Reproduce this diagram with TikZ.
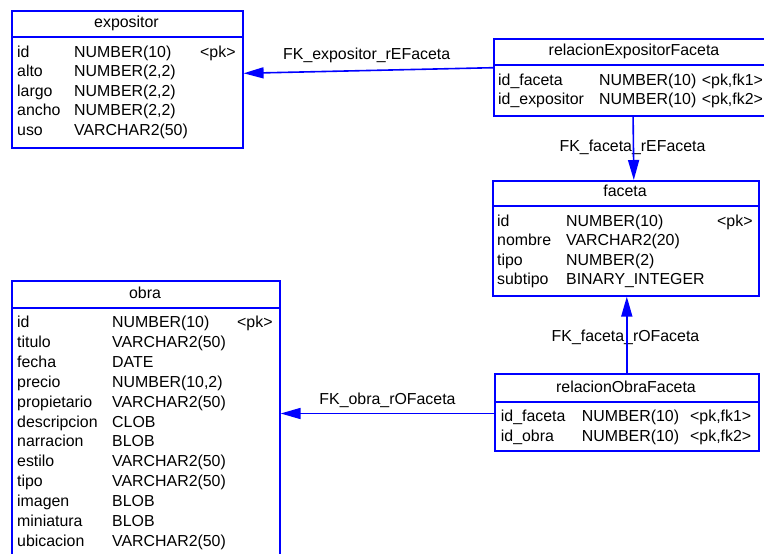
\documentclass[tikz,border=0pt]{standalone}
\usepackage{fontspec}
\setmainfont{Liberation Sans}
\usetikzlibrary{arrows.meta}
\definecolor{pdblue}{RGB}{0,0,255}
\begin{document}
\begin{tikzpicture}[x=1pt,y=-1pt,
  tbl/.style={draw=pdblue, line width=1.6pt, rectangle, inner sep=0pt, anchor=north west},
  sepline/.style={draw=pdblue, line width=1.6pt},
  txt/.style={inner sep=0pt, anchor=base west, font=\fontsize{15.9}{18}\selectfont},
  hdr/.style={inner sep=0pt, anchor=base, font=\fontsize{15.9}{18}\selectfont},
  fk/.style={draw=pdblue, line width=1.6pt, -{Triangle[length=20pt,width=11pt]}}]
\useasboundingbox (0,0) rectangle (764,554);

% ---------- tables ----------
\node[tbl, minimum width=231pt, minimum height=137pt] (expositor) at (11,10) {};
\draw[sepline] ([yshift=-27pt]expositor.north west) -- ([yshift=-27pt]expositor.north east);
\node[hdr] (expositor-h) at (126.5,27.7) {expositor};
\foreach \a/\b [count=\i from 0] in {id/NUMBER(10), alto/{NUMBER(2,2)}, largo/{NUMBER(2,2)}, ancho/{NUMBER(2,2)}, uso/VARCHAR2(50)} {
  \node[txt] (exp-a\i) at (17,57+19.6*\i) {\a};
  \node[txt] (exp-b\i) at (74,57+19.6*\i) {\b};
}
\node[txt] (exp-pk) at (200,57) {<pk>};

\node[tbl, minimum width=282pt, minimum height=77pt] (rEF) at (493,38) {};
\draw[sepline] ([yshift=-27pt]rEF.north west) -- ([yshift=-27pt]rEF.north east);
\node[hdr] (rEF-h) at (634,55.7) {relacionExpositorFaceta};
\node[txt] (ref-a0) at (498,85.5) {id\_faceta};
\node[txt] (ref-b0) at (599,85.5) {NUMBER(10)};
\node[txt] (ref-c0) at (701.7,85.5) {<pk,fk1>};
\node[txt] (ref-a1) at (498,104.5) {id\_expositor};
\node[txt] (ref-b1) at (599,104.5) {NUMBER(10)};
\node[txt] (ref-c1) at (701.7,104.5) {<pk,fk2>};

\node[tbl, minimum width=266pt, minimum height=115pt] (faceta) at (492,180) {};
\draw[sepline] ([yshift=-26pt]faceta.north west) -- ([yshift=-26pt]faceta.north east);
\node[hdr] (faceta-h) at (625,196.7) {faceta};
\foreach \a/\b [count=\i from 0] in {id/NUMBER(10), nombre/VARCHAR2(20), tipo/NUMBER(2), subtipo/BINARY\_INTEGER} {
  \node[txt] (fac-a\i) at (497,226+19.6*\i) {\a};
  \node[txt] (fac-b\i) at (566,226+19.6*\i) {\b};
}
\node[txt] (fac-pk) at (717,226) {<pk>};

\node[tbl, minimum width=268pt, minimum height=285pt] (obra) at (11,280) {};
\draw[sepline] ([yshift=-28pt]obra.north west) -- ([yshift=-28pt]obra.north east);
\node[hdr] (obra-h) at (145,298.7) {obra};
\foreach \a/\b [count=\i from 0] in {id/NUMBER(10), titulo/VARCHAR2(50), fecha/DATE, precio/{NUMBER(10,2)}, propietario/VARCHAR2(50), descripcion/CLOB, narracion/BLOB, estilo/VARCHAR2(50), tipo/VARCHAR2(50), imagen/BLOB, miniatura/BLOB, ubicacion/VARCHAR2(50)} {
  \node[txt] (obr-a\i) at (17,327.5+19.9*\i) {\a};
  \node[txt] (obr-b\i) at (112,327.5+19.9*\i) {\b};
}
\node[txt] (obr-pk) at (237,327.5) {<pk>};

\node[tbl, minimum width=264pt, minimum height=77pt] (rOF) at (494,373) {};
\draw[sepline] ([yshift=-29pt]rOF.north west) -- ([yshift=-29pt]rOF.north east);
\node[hdr] (rOF-h) at (626,392.7) {relacionObraFaceta};
\node[txt] (rof-a0) at (500.7,421) {id\_faceta};
\node[txt] (rof-b0) at (581.7,421) {NUMBER(10)};
\node[txt] (rof-c0) at (690,421) {<pk,fk1>};
\node[txt] (rof-a1) at (500.7,441) {id\_obra};
\node[txt] (rof-b1) at (581.7,441) {NUMBER(10)};
\node[txt] (rof-c1) at (690,441) {<pk,fk2>};

% ---------- connector labels ----------
\node[hdr] (l1) at (366.7,59.3) {FK\_expositor\_rEFaceta};
\node[hdr] (l2) at (632.5,151.7) {FK\_faceta\_rEFaceta};
\node[hdr] (l3) at (625.5,341.7) {FK\_faceta\_rOFaceta};
\node[hdr] (l4) at (387.5,404.3) {FK\_obra\_rOFaceta};

% ---------- connectors ----------
\draw[fk] ([yshift=-29.7pt]rEF.north west) -- ([yshift=-63.3pt]expositor.north east);
\draw[fk] ([xshift=-1.7pt]rEF.south) -- ([xshift=8pt]faceta.north);
\draw[fk] (rOF.north) -- ([xshift=1pt]faceta.south);
\draw[fk] ([yshift=-1.2pt]rOF.west) -- ([yshift=9.8pt]obra.east);
\end{tikzpicture}
\end{document}
